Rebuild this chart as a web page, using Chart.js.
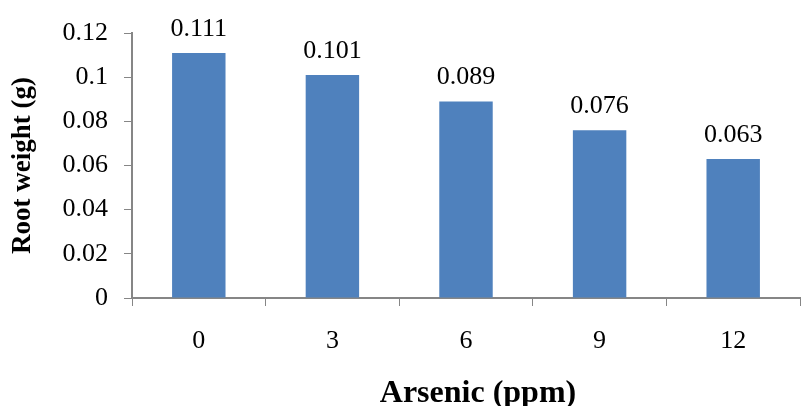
<!DOCTYPE html>
<html>
<head>
<meta charset="utf-8">
<script src="https://cdn.jsdelivr.net/npm/chart.js@4/dist/chart.umd.min.js"></script>
<style>
  html, body { margin: 0; padding: 0; background: #fff; }
  #wrap { width: 801px; height: 406px; }
</style>
</head>
<body>
<div id="wrap"><canvas id="rootChart"></canvas></div>
<script>
const arsenicLevels = ['0', '3', '6', '9', '12'];
const rootWeight = [0.111, 0.101, 0.089, 0.076, 0.063];
const valueLabels = ['0.111', '0.101', '0.089', '0.076', '0.063'];

const serif = '"Liberation Serif", "Times New Roman", serif';
const axisGray = '#868686';

// Draw the value above each bar
const barValues = {
  id: 'barValues',
  afterDatasetsDraw(chart) {
    const ctx = chart.ctx;
    const meta = chart.getDatasetMeta(0);
    ctx.save();
    ctx.font = '26px ' + serif;
    ctx.fillStyle = '#000';
    ctx.textAlign = 'center';
    ctx.textBaseline = 'alphabetic';
    meta.data.forEach((bar, i) => {
      ctx.fillText(valueLabels[i], bar.x, bar.y - 17);
    });
    ctx.restore();
  }
};

new Chart(document.getElementById('rootChart'), {
  type: 'bar',
  data: {
    labels: arsenicLevels,
    datasets: [{
      data: rootWeight,
      backgroundColor: '#4F81BD',
      borderWidth: 0,
      barPercentage: 0.4,
      categoryPercentage: 1
    }]
  },
  options: {
    responsive: true,
    maintainAspectRatio: false,
    animation: false,
    layout: { padding: { top: 33, right: 1, left: 7, bottom: 0 } },
    plugins: { legend: { display: false }, tooltip: { enabled: false } },
    scales: {
      x: {
        grid: { display: true, drawOnChartArea: false, color: axisGray, tickLength: 8 },
        border: { color: axisGray, width: 2 },
        ticks: { color: '#000', font: { family: serif, size: 26 }, padding: 20 },
        // leading spaces nudge the title right, as in the original
        title: { display: true, text: '\u00a0\u00a0\u00a0Arsenic (ppm)', color: '#000',
                 font: { family: serif, size: 32, weight: 'bold' }, padding: { top: 0, bottom: -7 } },
        afterFit(scale) { scale.height = 108; }
      },
      y: {
        min: 0,
        max: 0.12,
        grid: { display: true, drawOnChartArea: false, color: axisGray, tickLength: 8 },
        border: { color: axisGray, width: 2 },
        ticks: { stepSize: 0.02, color: '#000', font: { family: serif, size: 26 }, padding: 16,
                 callback: v => String(Math.round(v * 100) / 100) },
        title: { display: true, text: 'Root weight (g)', color: '#000',
                 font: { family: serif, size: 27, weight: 'bold' }, padding: { top: 0, bottom: 4 } },
        afterFit(scale) { scale.width = 125; }
      }
    }
  },
  plugins: [barValues]
});
</script>
</body>
</html>
